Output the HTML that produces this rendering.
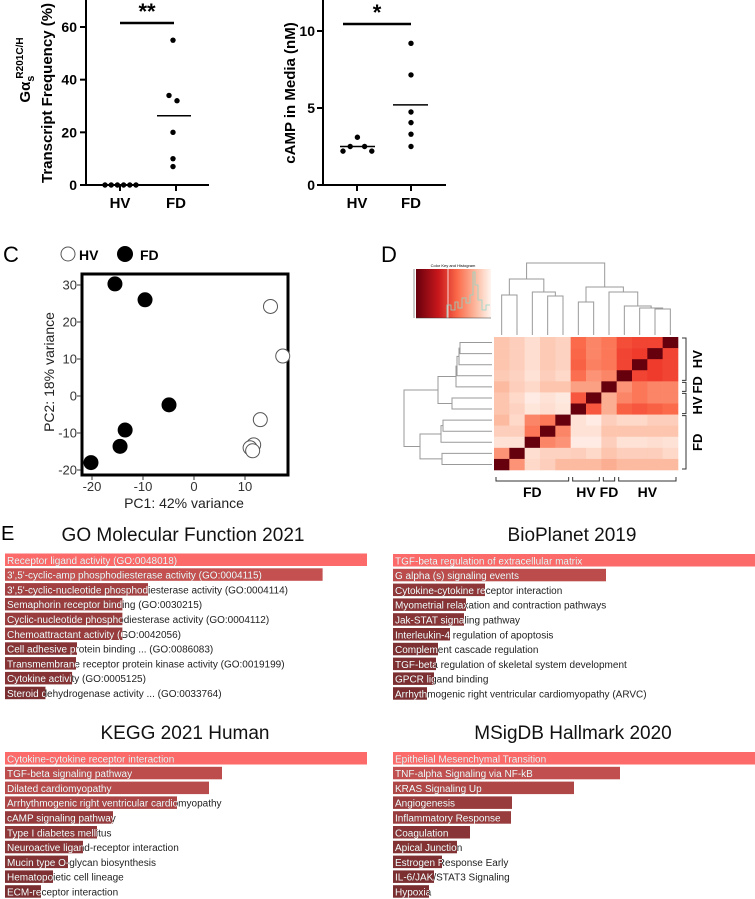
<!DOCTYPE html>
<html><head><meta charset="utf-8"><style>
html,body{margin:0;padding:0;background:#fff;}
svg{display:block;font-family:"Liberation Sans",Arial,sans-serif;}
</style></head><body>
<svg id="fig" width="755" height="899" viewBox="0 0 755 899" xmlns="http://www.w3.org/2000/svg">
<defs>
<linearGradient id="keyGrad" x1="0" x2="1" y1="0" y2="0">
<stop offset="0" stop-color="#67000d"/><stop offset="0.3" stop-color="#c8171c"/><stop offset="0.55" stop-color="#fb6a4a"/><stop offset="0.8" stop-color="#fcbba1"/><stop offset="1" stop-color="#fff5f0"/>
</linearGradient>
</defs>
<g id="panelA"></g>
<g id="panelB"></g>
<g id="panelC"></g>
<g id="panelD"></g>
<g id="panelE"></g>
</svg>
<script>
// ---------- DATA ----------
const aTicks = [0, 20, 40, 60];
const aHV = [0, 0, 0, 0, 0, 0];
const aFD = [55, 34, 32, 20, 10, 7];
const aHVMean = 0;
const aFDMean = 26.3;

const bTicks = [0, 5, 10];
const bHV = [2.2, 2.5, 3.1, 2.5, 2.2];
const bFD = [9.2, 7.15, 4.74, 4.05, 3.3, 2.5];
const bHVMean = 2.5;
const bFDMean = 5.2;

const pcaXTicks = [-20, -10, 0, 10];
const pcaYTicks = [-20, -10, 0, 10, 20, 30];
const pcaFDx = [-15.5, -9.6, -4.9, -13.5, -14.5, -20.2];
const pcaFDy = [30.3, 26, -2.4, -9.2, -13.6, -18];
const pcaHVx = [15, 17.4, 13, 11.7, 11, 11.5];
const pcaHVy = [24.2, 10.8, -6.4, -13.2, -14, -14.8];

const heatValues = [
 [0.25,0.2,0.12,0.22,0.18,0.6,0.5,0.55,0.75,0.8,0.8,1],
 [0.25,0.2,0.12,0.22,0.18,0.62,0.5,0.55,0.8,0.85,1,0.8],
 [0.25,0.2,0.12,0.22,0.18,0.65,0.52,0.55,0.8,1,0.85,0.8],
 [0.22,0.18,0.1,0.2,0.15,0.58,0.45,0.5,1,0.8,0.85,0.8],
 [0.3,0.2,0.15,0.25,0.25,0.4,0.4,1,0.45,0.55,0.5,0.5],
 [0.25,0.15,0.05,0.1,0.06,0.7,1,0.35,0.5,0.55,0.5,0.5],
 [0.25,0.18,0.08,0.12,0.08,1,0.7,0.35,0.65,0.7,0.65,0.6],
 [0.3,0.15,0.5,0.55,1,0.1,0.05,0.2,0.15,0.15,0.2,0.2],
 [0.2,0.2,0.55,1,0.5,0.1,0.1,0.25,0.25,0.25,0.25,0.25],
 [0.1,0.1,1,0.5,0.45,0.05,0.05,0.2,0.1,0.1,0.12,0.1],
 [0.45,1,0.12,0.18,0.18,0.2,0.15,0.25,0.2,0.2,0.2,0.15],
 [1,0.45,0.15,0.2,0.3,0.3,0.3,0.35,0.3,0.3,0.3,0.3]
];
const colGroups = [["FD",5],["HV",2],["FD",1],["HV",4]];
const rowGroups = [["HV",4],["FD",1],["HV",2],["FD",5]];

const goTerms = ["Receptor ligand activity (GO:0048018)","3',5'-cyclic-amp phosphodiesterase activity (GO:0004115)","3',5'-cyclic-nucleotide phosphodiesterase activity (GO:0004114)","Semaphorin receptor binding (GO:0030215)","Cyclic-nucleotide phosphodiesterase activity (GO:0004112)","Chemoattractant activity (GO:0042056)","Cell adhesive protein binding ... (GO:0086083)","Transmembrane receptor protein kinase activity (GO:0019199)","Cytokine activity (GO:0005125)","Steroid dehydrogenase activity ... (GO:0033764)"];
const goValues = [367, 322, 145, 119, 119, 119, 73, 72, 68, 41];
const bioTerms = ["TGF-beta regulation of extracellular matrix","G alpha (s) signaling events","Cytokine-cytokine receptor interaction","Myometrial relaxation and contraction pathways","Jak-STAT signaling pathway","Interleukin-4 regulation of apoptosis","Complement cascade regulation","TGF-beta regulation of skeletal system development","GPCR ligand binding","Arrhythmogenic right ventricular cardiomyopathy (ARVC)"];
const bioValues = [362, 213, 92, 73, 71, 57, 45, 43, 41, 34];
const keggTerms = ["Cytokine-cytokine receptor interaction","TGF-beta signaling pathway","Dilated cardiomyopathy","Arrhythmogenic right ventricular cardiomyopathy","cAMP signaling pathway","Type I diabetes mellitus","Neuroactive ligand-receptor interaction","Mucin type O-glycan biosynthesis","Hematopoietic cell lineage","ECM-receptor interaction"];
const keggValues = [362, 217, 204, 172, 108, 92, 78, 63, 48, 36];
const msigTerms = ["Epithelial Mesenchymal Transition","TNF-alpha Signaling via NF-kB","KRAS Signaling Up","Angiogenesis","Inflammatory Response","Coagulation","Apical Junction","Estrogen Response Early","IL-6/JAK/STAT3 Signaling","Hypoxia"];
const msigValues = [362, 227, 181, 119, 118, 77, 64, 49, 41, 36];

// ---------- HELPERS ----------
const NS = "http://www.w3.org/2000/svg";
function mk(tag, attrs, parent, text) {
  const e = document.createElementNS(NS, tag);
  for (const k in attrs) e.setAttribute(k, attrs[k]);
  if (text !== undefined) e.textContent = text;
  parent.appendChild(e);
  return e;
}
function line(p, x1, y1, x2, y2, sw, col) { return mk("line", {x1, y1, x2, y2, stroke: col || "#000", "stroke-width": sw || 1}, p); }

// ---------- PANEL A ----------
(function () {
  const g = document.getElementById("panelA");
  const y = v => 185 - v * (158 / 60);
  const axX = 86, xHV = 120, xFD = 176;
  line(g, axX, 0, axX, 186, 2);
  line(g, axX - 1, 185, 209, 185, 2);
  aTicks.forEach(t => {
    line(g, axX - 6, y(t), axX, y(t), 2);
    const tl = mk("text", {x: axX - 9, y: y(t) + 5, "text-anchor": "end", "font-size": 14, "font-weight": "bold"}, g, t);
    
    
  });
  [[xHV, "HV"], [xFD, "FD"]].forEach(([x, l]) => {
    line(g, x, 185, x, 191, 2);
    const t = mk("text", {x, y: 208, "text-anchor": "middle", "font-size": 15, "font-weight": "bold"}, g, l);
    
    
  });
  aHV.forEach((v, i) => {
    const c = mk("circle", {cx: 105 + i * 6.2, cy: y(v), r: 2.7, fill: "#000"}, g);
    
    
  });
  aFD.forEach((v, i) => {
    const dx = (v === 32) ? 4 : (v === 34 ? -4 : 0);
    const c = mk("circle", {cx: xFD - 3 + dx, cy: y(v), r: 2.7, fill: "#000"}, g);
    
    
  });
  line(g, 157, y(aFDMean), 191, y(aFDMean), 1.5);
  line(g, 100, y(aHVMean), 140, y(aHVMean), 1.5);
  line(g, 120, 23, 174, 23, 2.5);
  const s = mk("text", {x: 147, y: 19, "text-anchor": "middle", "font-size": 22, "font-weight": "bold"}, g, "**");
  
  
  const t1 = mk("text", {transform: "translate(52,93) rotate(-90)", "text-anchor": "middle", "font-size": 15, "font-weight": "bold"}, g, "Transcript Frequency (%)");
  
  
  const t2 = mk("text", {transform: "translate(30,70) rotate(-90)", "text-anchor": "middle", "font-size": 15, "font-weight": "bold"}, g);
  
  
  mk("tspan", {}, t2, "Gα");
  mk("tspan", {dy: 4, "font-size": 11}, t2, "s");
  mk("tspan", {dy: -11, dx: -3, "font-size": 10}, t2, "R201C/H");
})();

// ---------- PANEL B ----------
(function () {
  const g = document.getElementById("panelB");
  const y = v => 185 - v * (154 / 10);
  const axX = 323, xHV = 357, xFD = 411;
  line(g, axX, 0, axX, 186, 2);
  line(g, axX - 1, 185, 446, 185, 2);
  bTicks.forEach(t => {
    line(g, axX - 6, y(t), axX, y(t), 2);
    const tl = mk("text", {x: axX - 8, y: y(t) + 5, "text-anchor": "end", "font-size": 14, "font-weight": "bold"}, g, t);
    
    
  });
  [[xHV, "HV"], [xFD, "FD"]].forEach(([x, l]) => {
    line(g, x, 185, x, 191, 2);
    const t = mk("text", {x, y: 208, "text-anchor": "middle", "font-size": 15, "font-weight": "bold"}, g, l);
    
    
  });
  bHV.forEach((v, i) => {
    const c = mk("circle", {cx: 343 + i * 7.2, cy: y(v), r: 2.7, fill: "#000"}, g);
    
    
  });
  bFD.forEach(v => {
    const c = mk("circle", {cx: xFD, cy: y(v), r: 2.7, fill: "#000"}, g);
    
    
  });
  line(g, 340, y(bHVMean), 375, y(bHVMean), 1.5);
  line(g, 393, y(bFDMean), 428, y(bFDMean), 1.5);
  line(g, 343, 24, 411, 24, 2.5);
  const s = mk("text", {x: 377, y: 20, "text-anchor": "middle", "font-size": 22, "font-weight": "bold"}, g, "*");
  
  
  const t1 = mk("text", {transform: "translate(295,93) rotate(-90)", "text-anchor": "middle", "font-size": 15, "font-weight": "bold"}, g, "cAMP in Media (nM)");
  
  
})();

// ---------- PANEL C ----------
(function () {
  const g = document.getElementById("panelC");
  const x = v => 194 + v * 5.1;
  const y = v => 396 - v * 3.7;
  const L = mk("text", {x: 3, y: 262, "font-size": 22}, g, "C");
  
  
  mk("circle", {cx: 68, cy: 254, r: 7, fill: "#fff", stroke: "#555", "stroke-width": 1}, g);
  const l1 = mk("text", {x: 79, y: 260, "font-size": 14, "font-weight": "bold"}, g, "HV");
  
  
  mk("circle", {cx: 125, cy: 254, r: 8, fill: "#000"}, g);
  const l2 = mk("text", {x: 140, y: 260, "font-size": 14, "font-weight": "bold"}, g, "FD");
  
  
  const box = mk("rect", {x: 82, y: 274, width: 206, height: 201, fill: "#fff", stroke: "#000", "stroke-width": 3}, g);
  
  
  pcaXTicks.forEach(t => {
    line(g, x(t), 476, x(t), 480, 1, "#333");
    const tl = mk("text", {x: x(t), y: 491, "text-anchor": "middle", "font-size": 13, fill: "#333"}, g, t);
    
    
  });
  pcaYTicks.forEach(t => {
    line(g, 77, y(t), 81, y(t), 1, "#333");
    const tl = mk("text", {x: 77, y: y(t) + 4.5, "text-anchor": "end", "font-size": 13, fill: "#333"}, g, t);
    
    
  });
  const xt = mk("text", {x: 184, y: 508, "text-anchor": "middle", "font-size": 14, fill: "#222"}, g, "PC1: 42% variance");
  
  
  const yt = mk("text", {transform: "translate(54,372) rotate(-90)", "text-anchor": "middle", "font-size": 14, fill: "#222"}, g, "PC2: 18% variance");
  
  
  pcaHVx.forEach((v, i) => {
    const c = mk("circle", {cx: x(v), cy: y(pcaHVy[i]), r: 7, fill: "#fff", stroke: "#555", "stroke-width": 1}, g);
    
    
  });
  pcaFDx.forEach((v, i) => {
    const c = mk("circle", {cx: x(v), cy: y(pcaFDy[i]), r: 7.5, fill: "#000"}, g);
    
    
  });
})();

// ---------- PANEL D ----------
(function () {
  const g = document.getElementById("panelD");
  const L = mk("text", {x: 381, y: 262, "font-size": 22}, g, "D");
  
  
  const X0 = 494, Y0 = 337, CW = 184 / 12, CH = 133 / 12;
  const stops = [[0, [255, 245, 240]], [0.3, [252, 187, 161]], [0.6, [251, 106, 74]], [0.85, [239, 59, 44]], [1, [103, 0, 13]]];
  function col(v) {
    if (v >= 0.99) return "rgb(103,0,13)";
    for (let i = 1; i < stops.length; i++) {
      if (v <= stops[i][0]) {
        const a = stops[i - 1], b = stops[i], t = (v - a[0]) / (b[0] - a[0]);
        const c = a[1].map((q, k) => Math.round(q + (b[1][k] - q) * t));
        return "rgb(" + c.join(",") + ")";
      }
    }
    return "rgb(103,0,13)";
  }
  heatValues.forEach((row, r) => row.forEach((v, c) => {
    const cell = mk("rect", {x: X0 + c * CW, y: Y0 + r * CH, width: CW + 0.3, height: CH + 0.3, fill: col(v)}, g);
    
    
  }));
  const topMerges = [[0, 1, 295], [3, 4, 296], [2, -2, 292], [-1, -3, 279], [5, 6, 302], [10, 11, 309], [9, -6, 308], [8, -7, 306], [7, -8, 292], [-5, -9, 287], [-4, -10, 263]];
  const leftMerges = [[0, 1, 460], [-1, 2, 459], [-2, 3, 457], [-3, 4, 456], [5, 6, 452], [-4, -5, 438], [7, 8, 443], [-7, 9, 441], [10, 11, 442], [-8, -9, 420], [-6, -10, 404]];
  function dendro(merges, leafPos, leafBase, vertical) {
    const nodes = [];
    const get = k => k >= 0 ? [leafPos(k), leafBase] : nodes[-k - 1];
    merges.forEach(m => {
      const a = get(m[0]), b = get(m[1]), h = m[2];
      let d;
      if (vertical) d = `M${a[0]},${a[1]}V${h}H${b[0]}V${b[1]}`;
      else d = `M${a[1]},${a[0]}H${h}V${b[0]}H${b[1]}`;
      const p = mk("path", {d, fill: "none", stroke: "#999", "stroke-width": 1}, g);
      
      
      nodes.push([(a[0] + b[0]) / 2, h]);
    });
  }
  dendro(topMerges, k => X0 + CW * (k + 0.5), 335, true);
  dendro(leftMerges, k => Y0 + CH * (k + 0.5), 492, false);
  let off = 0;
  colGroups.forEach(([lab, n]) => {
    const x1 = X0 + off * CW + 2, x2 = X0 + (off + n) * CW - 2;
    mk("path", {d: `M${x1},477V481H${x2}V477`, fill: "none", stroke: "#333", "stroke-width": 1}, g);
    const t = mk("text", {x: (x1 + x2) / 2, y: 497, "text-anchor": "middle", "font-size": 14, "font-weight": "bold"}, g, lab);
    
    
    off += n;
  });
  off = 0;
  const rowLabelShift = [0, -2, 2, 0];
  rowGroups.forEach(([lab, n], i) => {
    const y1 = Y0 + off * CH + 1, y2 = Y0 + (off + n) * CH - 1;
    mk("path", {d: `M682,${y1}H686V${y2}H682`, fill: "none", stroke: "#333", "stroke-width": 1}, g);
    const t = mk("text", {transform: `translate(702,${(y1 + y2) / 2 + rowLabelShift[i]}) rotate(-90)`, "text-anchor": "middle", "font-size": 13, "font-weight": "bold"}, g, lab);
    
    
    off += n;
  });
  const key = mk("rect", {x: 416, y: 269, width: 75, height: 49, fill: "url(#keyGrad)"}, g);
  
  
  line(g, 448, 269, 448, 318, 0.8, "#fff");
  mk("polyline", {points: "447,318 447,305 451,305 451,310 455,310 455,302 458,302 458,308 462,308 462,298 466,298 466,303 470,303 470,295 473,295 473,272 475,272 475,285 478,285 478,300 482,300 482,310 486,310 486,305 490,305", fill: "none", stroke: "#8fd8c8", "stroke-width": 0.8}, g);
  const kt = mk("text", {x: 453, y: 267, "text-anchor": "middle", "font-size": 4}, g, "Color Key and Histogram");
  
  
  line(g, 416, 318, 491, 318, 0.5, "#333");
  line(g, 414, 269, 414, 318, 0.5, "#333");
})();

// ---------- PANEL E ----------
(function () {
  const g = document.getElementById("panelE");
  const L = mk("text", {x: 1, y: 540, "font-size": 20}, g, "E");
  
  
  let clipId = 0;
  function barColor(t) {
    if (t >= 0.99) return "#fd6a6a";
    const a = [122, 46, 48], b = [196, 80, 80];
    const u = Math.max(0, Math.min(1, (t - 0.1) / 0.55));
    return "rgb(" + a.map((q, k) => Math.round(q + (b[k] - q) * u)).join(",") + ")";
  }
  function barPanel(name, title, terms, values, x0, titleX, titleY, top) {
    const pg = mk("g", {}, g);
    
    
    const tt = mk("text", {x: titleX, y: titleY, "text-anchor": "middle", "font-size": 19, fill: "#111"}, pg, title);
    
    
    const max = Math.max(...values);
    const fullW = 362;
    values.forEach((v, i) => {
      const w = v / max * fullW;
      const y = top + i * 14.8;
      const r = mk("rect", {x: x0, y, width: w, height: 12.5, fill: barColor(v / max)}, pg);
      
      
      const id = "clip" + (clipId++);
      const cp = mk("clipPath", {id}, pg);
      mk("rect", {x: x0, y, width: w, height: 12.5}, cp);
      const t1 = mk("text", {x: x0 + 2, y: y + 10.3, "font-size": 10, fill: "#222"}, pg, terms[i]);
      
      
      const t2 = mk("text", {x: x0 + 2, y: y + 10.3, "font-size": 10, fill: "#fff", "clip-path": `url(#${id})`}, pg, terms[i]);
      
      
    });
  }
  barPanel("go-molecular-function-chart", "GO Molecular Function 2021", goTerms, goValues, 5, 183, 541, 553.5);
  barPanel("bioplanet-chart", "BioPlanet 2019", bioTerms, bioValues, 393, 572, 541, 554);
  barPanel("kegg-chart", "KEGG 2021 Human", keggTerms, keggValues, 5, 185, 739, 752);
  barPanel("msigdb-chart", "MSigDB Hallmark 2020", msigTerms, msigValues, 393, 573, 739, 752);
})();
</script>
</body></html>
